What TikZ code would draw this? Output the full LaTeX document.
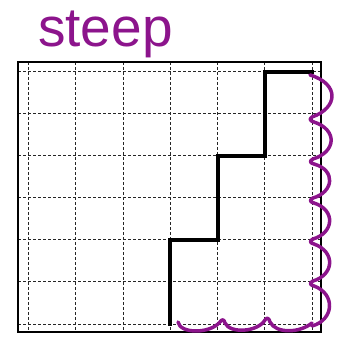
\documentclass[tikz,border=0pt]{standalone}
\usepackage{fontspec}
\setmainfont{Liberation Sans}
\definecolor{pen}{RGB}{140,20,140}
\begin{document}
\begin{tikzpicture}[x=1pt,y=-1pt,
  gridline/.style={black!85, line width=0.8pt, dash pattern=on 3pt off 2pt},
  frameline/.style={black, line width=2pt},
  stairline/.style={black, line width=4pt},
  wave/.style={pen, line width=3.5pt, line cap=round, line join=round}]
\useasboundingbox (0,0) rectangle (346,339);
% grid
\foreach \x in {28.3,75.6,122.9,170.2,217.5,264.8,312} {\draw[gridline] (\x,62) -- (\x,332);}
\foreach \y in {71.7,113.7,155.7,197.7,239.7,281.7,324} {\draw[gridline] (18,\y) -- (321,\y);}
% frame
\draw[frameline] (18,62) rectangle (321,332);
% staircase
\coordinate (s0) at (170.2,324);
\coordinate (s1) at (170.2,239.7);
\coordinate (s2) at (217.5,239.7);
\coordinate (s3) at (217.5,155.7);
\coordinate (s4) at (264.8,155.7);
\coordinate (s5) at (264.8,71.7);
\coordinate (s6) at (312,71.7);
\draw[stairline, line cap=rect] (s0) -- (s1) -- (s2) -- (s3) -- (s4) -- (s5) -- (s6);
% right wavy side
\draw[wave] (310,75)
  .. controls (340,84) and (338,108) .. (312,117)
  .. controls (309,119) and (310,121) .. (314,122)
  .. controls (338,130) and (336,152) .. (313,159)
  .. controls (309,161) and (310,163) .. (314,164)
  .. controls (336,170) and (334,192) .. (313,198)
  .. controls (309,200) and (310,202) .. (314,203)
  .. controls (336,210) and (334,233) .. (313,239)
  .. controls (309,241) and (310,243) .. (314,244)
  .. controls (336,252) and (334,275) .. (313,281)
  .. controls (309,283) and (310,285) .. (314,286)
  .. controls (336,294) and (334,320) .. (312,326);
% bottom wavy side
\draw[wave] (178,322)
  .. controls (180,334) and (210,334) .. (220,322)
  .. controls (222,319) and (224,319) .. (225,323)
  .. controls (230,334) and (258,332) .. (265,320)
  .. controls (267,317) and (269,318) .. (270,322)
  .. controls (276,334) and (300,333) .. (312,323);
% label
\node[pen, anchor=base west, inner sep=0pt, font=\fontsize{55}{55}\selectfont] (title) at (38,47) {steep};
\end{tikzpicture}
\end{document}
